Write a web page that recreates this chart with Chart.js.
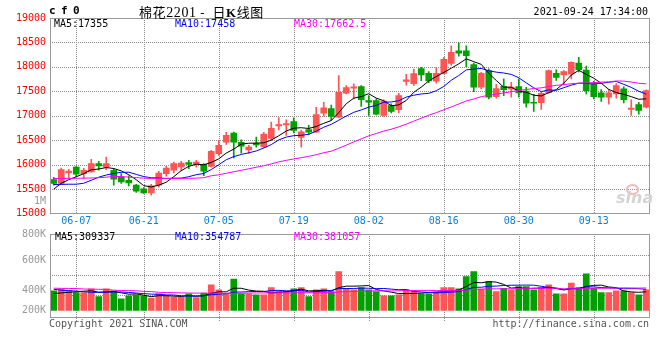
<!DOCTYPE html>
<html><head><meta charset="utf-8">
<script src="https://cdn.jsdelivr.net/npm/chart.js@4.4.1/dist/chart.umd.min.js"></script>
<style>
html,body{margin:0;padding:0;background:#fff;}
#wrap{position:relative;width:660px;height:360px;overflow:hidden;background:#fff;}
canvas{position:absolute;left:0;}
.t{position:absolute;white-space:pre;font-family:'DejaVu Sans Mono',monospace;font-size:10px;line-height:12px;color:#000;}
</style></head><body>
<div id="wrap">
<canvas id="pc" width="660" height="230" style="top:0"></canvas>
<canvas id="vc" width="660" height="110" style="top:220px"></canvas>
<div class="t" style="left:49px;top:5px;font-weight:bold;font-size:11px;letter-spacing:5.4px">cf0</div>
<div class="t" style="left:139px;top:3px;font-family:'Noto Sans CJK SC',sans-serif;font-size:13px;line-height:17px;letter-spacing:0.6px">棉花<span style="font-family:'Liberation Serif',serif;font-size:14px">2201</span> <span style="font-family:'Liberation Serif',serif">- </span> 日<b style="font-family:'Liberation Serif',serif">K</b>线图</div>
<div class="t" style="right:12px;top:6px;">2021-09-24 17:34:00</div>
<div class="t" style="left:54px;top:18px;">MA5:17355</div>
<div class="t" style="left:175px;top:18px;color:#0000ff">MA10:17458</div>
<div class="t" style="left:294px;top:18px;color:#ff00ff">MA30:17662.5</div>
<div class="t" style="right:614px;top:195px;color:#999">1M</div>
<div class="t" style="left:55px;top:231px;">MA5:309337</div>
<div class="t" style="left:175px;top:231px;color:#0000ff">MA10:354787</div>
<div class="t" style="left:294px;top:231px;color:#ff00ff">MA30:381057</div>
<div class="t" style="left:49px;top:318px;color:#555">Copyright 2021 SINA.COM</div>
<div class="t" style="right:11px;top:318px;color:#555">http://finance.sina.com.cn</div>
<div style="position:absolute;left:626px;top:184px;width:9px;height:7px;border:2px solid #f2b8b8;border-radius:50%;"></div>
<div class="t" style="left:616px;top:190px;font-family:'DejaVu Sans',sans-serif;font-style:italic;font-weight:bold;font-size:16px;line-height:16px;color:#d4d4d4">sina</div>
</div>
<script>
// ---- categories ----
const dates = ['06-02','06-03','06-04','06-07','06-08','06-09','06-10','06-11','06-15','06-16','06-17','06-18','06-21','06-22','06-23','06-24','06-25','06-28','06-29','06-30',
'07-01','07-02','07-05','07-06','07-07','07-08','07-09','07-12','07-13','07-14','07-15','07-16','07-19','07-20','07-21','07-22','07-23','07-26','07-27','07-28','07-29','07-30',
'08-02','08-03','08-04','08-05','08-06','08-09','08-10','08-11','08-12','08-13','08-16','08-17','08-18','08-19','08-20','08-23','08-24','08-25','08-26','08-27','08-30','08-31',
'09-01','09-02','09-03','09-06','09-07','09-08','09-09','09-10','09-13','09-14','09-15','09-16','09-17','09-22','09-23','09-24'];
const dateTicks = ['06-07','06-21','07-05','07-19','08-02','08-16','08-30','09-13'];

// ---- OHLC ----
const opens = [15697,15615,15831,15953,15819,15851,16023,15953,15886,15750,15682,15581,15505,15424,15581,15819,15886,15953,16043,16008,
16008,15963,16226,16463,16646,16456,16300,16436,16365,16538,16793,16813,16884,16558,16717,16666,17053,17149,16972,17461,
17563,17597,17312,17312,17006,17210,17125,17705,17658,17964,17868,17709,17868,18072,18330,18330,18049,17583,17923,17393,
17601,17546,17597,17505,17277,17271,17471,17868,17836,17856,18080,17937,17644,17471,17379,17448,17550,17129,17230,17175];
const highs = [15744,15933,15906,15968,15927,16110,16069,16157,15921,15819,15770,15601,15534,15601,15866,15968,16055,16069,16090,16090,
16023,16293,16497,16660,16666,16507,16395,16564,16660,16870,16966,16919,16956,16701,16803,17175,17275,17220,17821,17618,
17652,17618,17414,17347,17328,17245,17461,17848,17954,17990,17903,17984,18194,18432,18493,18432,18076,17888,17958,17644,
17754,17685,17754,17583,17440,17481,17933,17939,17923,18106,18194,18015,17703,17536,17540,17658,17591,17328,17277,17530];
const lows = [15581,15590,15723,15750,15723,15845,15886,15900,15581,15615,15566,15432,15411,15377,15540,15764,15831,15872,15921,15947,
15774,15947,16192,16416,16141,16238,16232,16361,16355,16497,16711,16599,16650,16361,16619,16660,16990,16905,16956,17448,
17347,17194,17006,17017,16992,17061,17057,17624,17618,17719,17679,17668,17856,18031,18218,18005,17495,17550,17347,17363,
17414,17379,17379,17175,17088,17133,17461,17725,17634,17754,17897,17448,17347,17296,17237,17359,17261,17006,17033,17163];
const closes = [15615,15900,15872,15805,15886,16023,15974,16023,15703,15648,15627,15458,15424,15566,15831,15933,16023,16035,16008,16055,
15866,16273,16395,16599,16463,16379,16361,16406,16626,16742,16823,16843,16701,16670,16666,17027,17165,16986,17481,17577,
17591,17332,17277,17033,17302,17088,17414,17734,17862,17836,17713,17868,18153,18296,18280,18229,17583,17868,17379,17556,
17536,17587,17469,17257,17257,17461,17923,17787,17903,18092,17943,17516,17393,17379,17471,17618,17332,17159,17108,17516];

// ---- price moving averages ----
const ma5 = [15500,15620,15693,15754,15816,15897,15912,15942,15922,15874,15795,15692,15572,15545,15581,15642,15755,15878,15966,16011,
15997,16047,16119,16238,16319,16422,16439,16442,16447,16503,16592,16688,16747,16756,16741,16781,16846,16903,17065,17247,
17360,17393,17452,17362,17307,17206,17223,17314,17480,17587,17712,17803,17886,17973,18062,18165,18108,18051,17868,17723,
17584,17585,17505,17481,17421,17406,17473,17537,17666,17833,17930,17848,17769,17665,17540,17475,17439,17392,17338,17347];
const ma10 = [15595,15597,15601,15601,15621,15682,15745,15790,15820,15845,15846,15802,15757,15733,15728,15719,15724,15725,15755,15796,
15820,15901,15999,16102,16165,16210,16243,16281,16342,16411,16507,16564,16594,16601,16622,16687,16767,16825,16910,16994,
17071,17120,17177,17214,17277,17283,17308,17383,17421,17447,17459,17513,17600,17727,17824,17939,17955,17969,17921,17893,
17875,17847,17778,17674,17572,17495,17529,17521,17574,17627,17668,17661,17653,17665,17687,17703,17643,17581,17501,17444];
const ma30 = [15717,15718,15720,15722,15725,15728,15735,15745,15760,15758,15745,15735,15725,15720,15718,15718,15718,15720,15722,15725,
15735,15774,15794,15825,15856,15886,15917,15947,15978,16017,16058,16089,16117,16145,16171,16205,16245,16277,16336,16400,
16466,16528,16590,16639,16688,16726,16773,16829,16891,16951,17012,17065,17124,17181,17241,17303,17343,17392,17417,17444,
17468,17493,17519,17538,17558,17572,17598,17624,17638,17656,17667,17673,17677,17689,17694,17712,17709,17690,17665,17654];

// ---- volume ----
const volumes = [324000,357000,324000,296000,296000,357000,230000,357000,324000,192000,242000,258000,242000,204000,275000,242000,220000,220000,275000,214000,
286000,423000,341000,275000,521000,275000,275000,258000,258000,378000,329000,324000,357000,378000,230000,341000,357000,313000,642000,357000,
341000,378000,341000,313000,242000,242000,258000,341000,324000,275000,275000,303000,378000,378000,357000,559000,642000,352000,477000,313000,
368000,341000,395000,395000,341000,378000,423000,275000,275000,451000,378000,604000,368000,296000,296000,324000,324000,296000,258000,341000];
const volMa5 = [280000,290000,300000,310000,319000,326000,301000,307000,313000,292000,269000,275000,252000,228000,244000,244000,237000,232000,246000,234000,
243000,284000,308000,308000,369000,367000,337000,321000,317000,289000,300000,309000,329000,353000,324000,326000,333000,324000,377000,402000,
402000,406000,412000,346000,323000,303000,279000,279000,281000,288000,295000,304000,311000,322000,338000,395000,463000,458000,477000,469000,
430000,370000,379000,362000,368000,370000,386000,362000,338000,360000,360000,397000,415000,419000,388000,378000,322000,307000,300000,309000];
const volMa10 = [350000,335000,328000,320000,310000,300000,300000,303000,305000,306000,298000,288000,279000,270000,268000,257000,256000,242000,237000,239000,
244000,260000,270000,277000,302000,305000,311000,314000,313000,329000,333000,323000,325000,335000,306000,313000,321000,327000,365000,363000,
364000,369000,368000,361000,363000,353000,343000,346000,314000,306000,299000,291000,295000,302000,313000,345000,383000,384000,400000,403000,
413000,417000,418000,420000,418000,400000,378000,371000,350000,364000,365000,392000,389000,379000,374000,369000,359000,361000,360000,349000];
const volMa30 = [368000,366000,364000,362000,355000,352000,350000,348000,335000,330000,328000,325000,315000,312000,300000,296000,294000,290000,288000,287000,
286000,286000,285000,285000,283000,285000,287000,289000,290000,291000,291000,290000,291000,294000,292000,291000,296000,294000,305000,310000,
314000,318000,321000,325000,323000,323000,325000,329000,330000,332000,332000,328000,329000,333000,327000,337000,349000,352000,359000,357000,
359000,359000,360000,361000,365000,366000,368000,367000,355000,358000,359000,366000,367000,367000,369000,371000,374000,372000,370000,372000];

// ---- axis ticks ----
const priceMin = 15000, priceMax = 19000, priceStep = 500;
const priceGridValues = [15500, 16000, 16500, 17000, 17500, 18000, 18500];
const volMin = -120000, volMax = 1260000;
const volTickLabels = ['800K','600K','400K','200K'];
const volTickValues = [1260000, 825000, 330000, 0];
const volGridValues = [917000, 586000, 255000];

// ---- build ----
const UP = '#ff5555', DOWN = '#00a000';
const candleColor = closes.map((c, i) => c >= opens[i] ? UP : DOWN);
const dateIdx = dateTicks.map(d => dates.indexOf(d));
const FONT = {family: "'DejaVu Sans Mono', monospace", size: 10};
const GRID = '#8c8c8c';

const boxPlugin = {
  id: 'box',
  afterDraw(chart) {
    const {ctx, chartArea: a} = chart;
    ctx.save();
    ctx.strokeStyle = '#999';
    ctx.lineWidth = 1;
    ctx.setLineDash([]);
    const l = Math.floor(a.left) + 0.5, t = Math.floor(a.top) + 0.5;
    const r = Math.floor(a.right) - 0.5, b = Math.floor(a.bottom) + 0.5;
    ctx.strokeRect(l, t, r - l, b - t);
    ctx.restore();
  }
};

// dotted grid (1px on, 1px off) placed with the chart's own scales
function makeGridPlugin(hValues, tickBelow) {
  return {
    id: 'dotgrid',
    beforeDatasetsDraw(chart) {
      const {ctx, chartArea: a, scales} = chart;
      const xs = scales.x, ys = scales.y;
      const L = Math.floor(a.left), R = Math.floor(a.right), T = Math.floor(a.top), B = Math.floor(a.bottom);
      ctx.save();
      ctx.fillStyle = GRID;
      hValues.forEach(v => {
        const py = Math.round(ys.getPixelForValue(v));
        for (let px = L + 2; px < R; px += 2) ctx.fillRect(px, py, 1, 1);
      });
      dateIdx.forEach(i => {
        const px = Math.round(xs.getPixelForValue(i));
        for (let py = T + 2; py < B + tickBelow + 1; py += 2) ctx.fillRect(px, py, 1, 1);
      });
      ctx.restore();
    }
  };
}

function lineDs(data, color) {
  return {type: 'line', data, borderColor: color, borderWidth: 1, pointRadius: 0, tension: 0, order: 1, fill: false};
}

function xAxis(showLabels, height) {
  return {
    type: 'category', labels: dates, offset: true,
    grid: {display: false, drawTicks: false},
    border: {display: false},
    ticks: {display: showLabels, autoSkip: false, maxRotation: 0, minRotation: 0, padding: 2, color: '#0a7fd8', font: FONT,
      callback: (v, i) => dateIdx.includes(i) ? dates[i] : ''},
    afterFit: s => { s.height = height; }
  };
}

new Chart(document.getElementById('pc'), {
  type: 'bar',
  data: {
    labels: dates,
    datasets: [
      {type: 'bar', data: lows.map((l, i) => [l, highs[i]]), backgroundColor: candleColor, barThickness: 1, grouped: false, order: 3},
      {type: 'bar', data: opens.map((o, i) => [o, closes[i]]), backgroundColor: candleColor, barThickness: 6, grouped: false, minBarLength: 1, order: 2},
      lineDs(ma30, '#ff00ff'),
      lineDs(ma10, '#0000ff'),
      lineDs(ma5, '#000000')
    ]
  },
  options: {
    responsive: false, animation: false, devicePixelRatio: 1,
    layout: {padding: {top: 18, right: 10, left: 0, bottom: 0}},
    plugins: {legend: {display: false}, tooltip: {enabled: false}},
    scales: {
      x: xAxis(true, 16.4),
      y: {min: priceMin, max: priceMax,
        ticks: {stepSize: priceStep, color: '#ff0000', padding: 4, font: FONT, callback: v => String(v)},
        grid: {display: false, drawTicks: false},
        border: {display: false},
        afterFit: s => { s.width = 50; }}
    }
  },
  plugins: [makeGridPlugin(priceGridValues, 0), boxPlugin]
});

new Chart(document.getElementById('vc'), {
  type: 'bar',
  data: {
    labels: dates,
    datasets: [
      {type: 'bar', data: volumes, backgroundColor: candleColor, barThickness: 6, grouped: false, order: 2},
      lineDs(volMa30, '#ff00ff'),
      lineDs(volMa10, '#0000ff'),
      lineDs(volMa5, '#000000')
    ]
  },
  options: {
    responsive: false, animation: false, devicePixelRatio: 1,
    layout: {padding: {top: 14.3, right: 10, left: 0, bottom: 0}},
    plugins: {legend: {display: false}, tooltip: {enabled: false}},
    scales: {
      x: xAxis(false, 12.3),
      y: {min: volMin, max: volMax,
        afterBuildTicks: s => { s.ticks = volTickValues.map(v => ({value: v})); },
        ticks: {autoSkip: false, color: '#999', padding: 4, font: FONT,
          callback: (v, i) => volTickLabels[i]},
        grid: {display: false, drawTicks: false},
        border: {display: false},
        afterFit: s => { s.width = 50; }}
    }
  },
  plugins: [makeGridPlugin(volGridValues, 3), boxPlugin]
});
</script>
</body></html>
